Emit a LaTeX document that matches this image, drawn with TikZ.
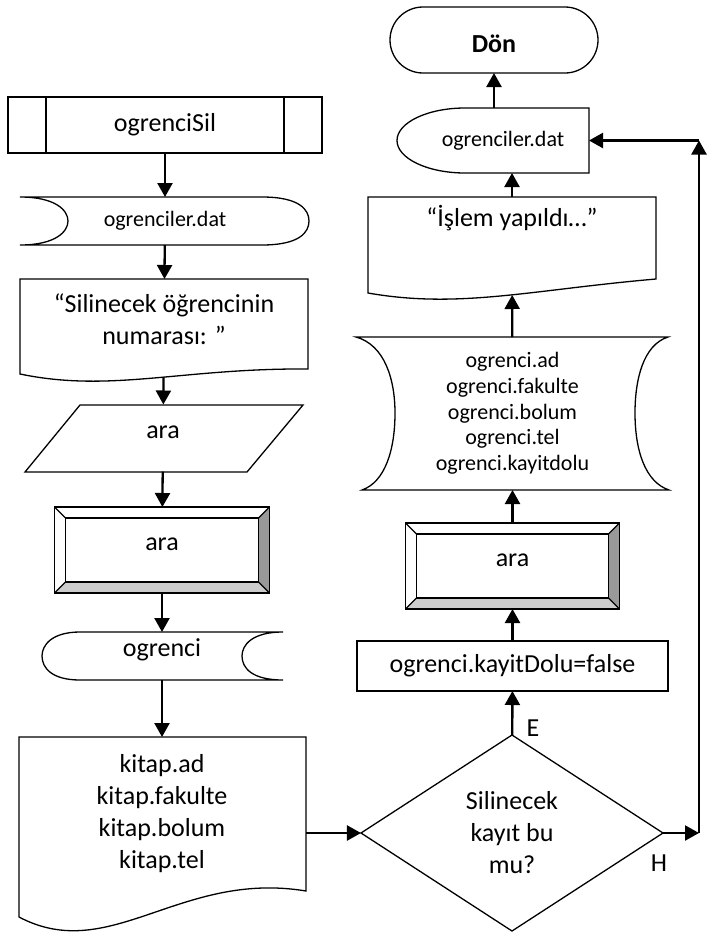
\documentclass[tikz,border=0pt]{standalone}
\usepackage{fontspec}
\setmainfont{Carlito}
\usetikzlibrary{arrows.meta,shapes.geometric,calc}
\definecolor{koyugri}{HTML}{999999}
\definecolor{acikgri}{HTML}{CCCCCC}

\begin{document}
\begin{tikzpicture}[x=1pt, y=-1pt,
    kutu/.style={inner sep=0pt, outer sep=0pt, align=center,
      font=\fontsize{26}{32}\selectfont},
    kucuk/.style={kutu, font=\fontsize{22}{25.7}\selectfont},
    orta/.style={text height=12pt, text depth=12pt},
    cizgi/.style={line width=1.3pt},
    ok/.style={->, line width=2.3pt}]
    \tikzset{>={Triangle[length=14pt,width=15pt]}}
    \useasboundingbox (0,0) rectangle (717,937);

    % sol sutun
    \node[kutu, minimum width=314pt, minimum height=56pt] (sil) at (165,125) {ogrenciSil};
    \draw[cizgi] (sil.north west) rectangle (sil.south east);
    \draw[cizgi] (46,97) -- (46,153) (284,97) -- (284,153);

    \node[kucuk, minimum width=289pt, minimum height=48pt] (dat1) at (165,221) {ogrenciler.dat};
    \draw[cizgi] (20,197) -- (262,197) .. controls (300,197) and (309,210) .. (309,221)
      .. controls (309,232) and (300,245) .. (262,245) -- (20,245)
      .. controls (55,245) and (68,232) .. (68,221)
      .. controls (68,210) and (55,197) .. (20,197) -- cycle;

    \node[kutu, minimum width=288pt, minimum height=98pt,
      label={[kutu, yshift=9pt]center:{“Silinecek öğrencinin\\numarası: ”}}] (msg) at (164,328) {};
    \draw[cizgi] (20,374) -- (20,279) -- (308,279) -- (308,369)
      .. controls (182,368) and (111,393) .. (20,374) -- cycle;

    \node[kutu, orta, minimum width=278pt, minimum height=67pt] (ara1) at (163,438) {ara};
    \draw[cizgi] (80,405) -- (303,405) -- (247,472) -- (25,472) -- cycle;

    \node[kutu, orta, minimum width=215pt, minimum height=86pt] (ara2) at (162,550) {ara};

    \node[kutu, orta, minimum width=241pt, minimum height=48pt] (ogr) at (162,656) {ogrenci};
    \draw[cizgi] (283,632) -- (80,632) .. controls (52,632) and (42,645) .. (42,656)
      .. controls (42,668) and (52,680) .. (80,680) -- (283,680)
      .. controls (252,680) and (242,668) .. (242,656)
      .. controls (242,645) and (252,632) .. (283,632);

    \node[kutu, minimum width=288pt, minimum height=192pt,
      label={[kutu, yshift=19pt]center:{kitap.ad\\kitap.fakulte\\kitap.bolum\\kitap.tel}}] (kitap) at (162,833) {};
    \draw[cizgi] (19,917) -- (19,737) -- (306,737) -- (306,891)
      .. controls (180,870) and (110,965) .. (19,917) -- cycle;

    % karar
    \node[kutu, draw, cizgi, diamond, minimum width=302pt, minimum height=196pt] (karar) at (512,833) {Silinecek\\kayıt bu\\mu?};
    \node[kutu] (evet) at (533,728) {E};
    \node[kutu] (hayir) at (659,863) {H};

    % sag sutun
    \node[kutu, draw, cizgi, minimum width=311pt, minimum height=50pt] (dolu) at (512.5,666) {ogrenci.kayitDolu=false};
    \node[kutu, orta, minimum width=214pt, minimum height=86pt] (ara3) at (512.5,566) {ara};

    \node[kucuk, minimum width=313pt, minimum height=153pt] (liste) at (512.5,413.5)
      {ogrenci.ad\\ogrenci.fakulte\\ogrenci.bolum\\ogrenci.tel\\ogrenci.kayitdolu};
    \draw[cizgi] (356,337) -- (668,337) .. controls (643,345) and (635,380) .. (635,413)
      .. controls (635,450) and (645,482) .. (669,490) -- (362,490)
      .. controls (385,482) and (395,450) .. (395,413)
      .. controls (395,380) and (385,345) .. (356,337) -- cycle;

    \node[kutu, anchor=north, text height=29pt, text depth=69pt, minimum width=288pt] (islem) at (512,197) {“İşlem yapıldı…”};
    \draw[cizgi] (368,293) -- (368,197) -- (656,197) -- (656,279)
      .. controls (530,290) and (459,309) .. (368,293) -- cycle;

    \node[kucuk, minimum width=172pt, minimum height=65pt] (dat2) at (503,140.5) {ogrenciler.dat};
    \draw[cizgi] (589,108) -- (465,108) .. controls (427.5,108) and (397,122.6) .. (397,140.5)
      .. controls (397,158.4) and (427.5,173) .. (465,173) -- (589,173) -- cycle;

    \node[kutu, draw, cizgi, rounded corners=33pt, minimum width=208pt, minimum height=66pt,
      text height=25pt, font=\fontsize{26}{32}\selectfont\bfseries] (don) at (494,40) {Dön};

    % cerceveli kutular
    \foreach \k in {ara2,ara3}{
      \fill[koyugri] (\k.north east) -- (\k.south east) -- ($(\k.south east)+(-11,-11)$)
        -- ($(\k.north east)+(-11,11)$) -- cycle;
      \fill[acikgri] (\k.south west) -- (\k.south east) -- ($(\k.south east)+(-11,-11)$)
        -- ($(\k.south west)+(11,-11)$) -- cycle;
      \draw[line width=1.8pt] (\k.north west) rectangle (\k.south east);
      \draw[cizgi] ($(\k.north west)+(11,11)$) rectangle ($(\k.south east)+(-11,-11)$);
      \draw[cizgi] (\k.north west) -- ++(11,11) (\k.north east) -- ++(-11,11)
        (\k.south east) -- ++(-11,-11) (\k.south west) -- ++(11,-11);
    }

    \coordinate (hk) at (699,833);
    \coordinate (hu) at (699,140.5);

    % baglantilar
    \draw[ok] (sil) -- (dat1);
    \draw[ok] (dat1) -- (msg);
    \draw[ok] (msg) -- (ara1);
    \draw[ok] (ara1) -- (ara2);
    \draw[ok] (ara2) -- (ogr);
    \draw[ok] (ogr) -- (kitap);
    \draw[ok] (kitap) -- (karar);
    \draw[ok] (karar) -- (dolu);
    \draw[ok] (dolu) -- (ara3);
    \draw[ok] (ara3) -- (liste);
    \draw[ok] (liste) -- (islem);
    \draw[ok] (islem.north) -- (islem.north |- dat2.south);
    \draw[ok] (dat2.north -| don.south) -- (don.south);
    \draw[ok] (karar) -- (hk);
    \draw[ok] (hk) -- (hu);
    \draw[ok] (hu) -- (dat2);
\end{tikzpicture}
\end{document}
